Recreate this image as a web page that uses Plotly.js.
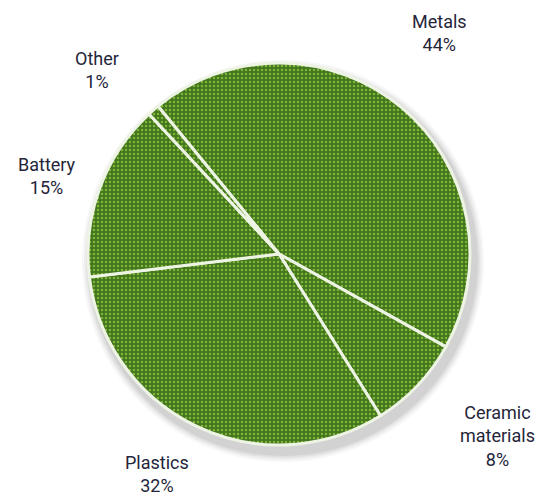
<!DOCTYPE html>
<html>
<head>
<meta charset="utf-8">
<script src="https://cdn.plot.ly/plotly-3.0.1.min.js"></script>
<style>html,body{margin:0;padding:0;background:#fff;}#chart{width:542px;height:497px;}</style>
</head>
<body>
<div id="chart"></div>
<script>
// Data
const labels = ["Metals", "Ceramic materials", "Plastics", "Battery", "Other"];
const values = [44, 8, 32, 15, 1];
const labelText = ["Metals", "Ceramic<br>materials", "Plastics", "Battery", "Other"];

// Label placement (pixels) — layout only
const labelPos = [
  [439, 33], [497, 436], [157, 474], [47, 176], [97, 70]
];
const W = 542, H = 497;
const CX = 279, CY = 254, R = 191;

const trace = {
  type: "pie",
  labels: labels,
  values: values,
  sort: false,
  direction: "clockwise",
  rotation: -39.3,
  textinfo: "none",
  hoverinfo: "label+percent",
  marker: {
    colors: labels.map(() => "#4b8020"),
    line: {color: "#eef4e4", width: 3},
    pattern: {shape: ".", fgcolor: "#80b53c", bgcolor: "#43761c", size: 4, solidity: 0.3}
  },
  domain: {x: [(CX - R) / W, (CX + R) / W], y: [(H - CY - R) / H, (H - CY + R) / H]},
  showlegend: false
};

const annotations = labels.map((l, i) => ({
  x: labelPos[i][0] / W,
  y: 1 - labelPos[i][1] / H,
  xref: "paper", yref: "paper",
  xanchor: "center", yanchor: "middle",
  align: "center",
  showarrow: false,
  text: labelText[i] + "<br>" + values[i] + "%",
  font: {family: "Roboto, sans-serif", size: 18, color: "#25253a"}
}));

// soft shadow under the pie
const shadows = [];
[[10, 0.03], [8, 0.04], [6, 0.05], [4, 0.06]].forEach(([g, a]) => {
  const ox = 4, oy = 7;
  shadows.push({
    type: "circle", xref: "paper", yref: "paper", layer: "below",
    x0: (CX + ox - R - g) / W, x1: (CX + ox + R + g) / W,
    y0: 1 - (CY + oy + R + g) / H, y1: 1 - (CY + oy - R - g) / H,
    fillcolor: "rgba(0,0,0," + a + ")", line: {width: 0}
  });
});

const layout = {
  width: W, height: H,
  margin: {l: 0, r: 0, t: 0, b: 0},
  paper_bgcolor: "#ffffff",
  showlegend: false,
  annotations: annotations,
  shapes: shadows
};

Plotly.newPlot("chart", [trace], layout, {displayModeBar: false, staticPlot: true});
</script>
</body>
</html>
